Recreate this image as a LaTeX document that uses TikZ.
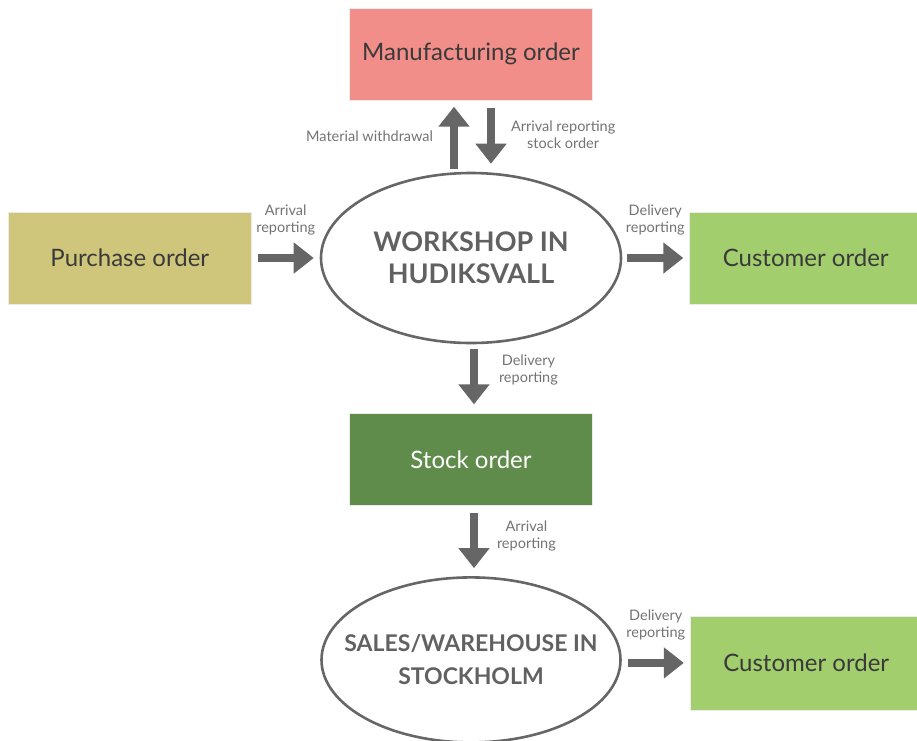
\documentclass[tikz,border=0pt]{standalone}
\usepackage{fontspec}
\setmainfont{Lato}
\usetikzlibrary{positioning,shapes.geometric,arrows.meta}
\definecolor{manufred}{HTML}{F28E89}
\definecolor{purchyellow}{HTML}{CFC67B}
\definecolor{custgreen}{HTML}{A2CE6E}
\definecolor{stockgreen}{HTML}{5F8B4B}
\definecolor{arrowgray}{HTML}{666666}
\definecolor{textgray}{HTML}{3A3A3A}
\begin{document}
\begin{tikzpicture}[x=1pt, y=-1pt,
    box/.style = {draw=black!8, line width=0.8pt, minimum width=243pt, minimum height=92pt, inner sep=0pt, text=textgray, font=\fontsize{24}{28}\selectfont},
    place/.style = {draw=arrowgray, ellipse, line width=2.6pt, inner xsep=-60pt, inner ysep=-30pt, align=center, text=black!62, font=\bfseries\fontsize{26}{32}\selectfont},
    flow/.style = {draw=arrowgray, line width=8pt, -{Triangle[width=30pt, length=20pt]}},
    lbl/.style = {inner sep=0pt, align=center, text=black!55, font=\fontsize{14.5}{17}\selectfont}]
    \useasboundingbox (0,0) rectangle (917,740);
    \node[place, minimum width=300pt, minimum height=170pt, font=\bfseries\fontsize{27}{32}\selectfont] (workshop) at (471,258) {WORKSHOP IN\\HUDIKSVALL};
    \node[box, fill=manufred] (manuf) [above=71pt of workshop] {Manufacturing order};
    \node[box, fill=purchyellow] (purchase) [left=68pt of workshop] {Purchase order};
    \node[box, fill=custgreen, minimum width=232pt] (cust1) [right=67pt of workshop] {Customer order};
    \node[box, fill=stockgreen, text=white] (stock) [below=69pt of workshop] {Stock order};
    \node[place, minimum width=299pt, minimum height=165pt, font=\bfseries\fontsize{23}{33}\selectfont] (sales) [below=70pt of stock] {SALES/WAREHOUSE IN\\STOCKHOLM};
    \node[box, fill=custgreen, minimum width=232pt, minimum height=94pt] (cust2) [right=68pt of sales, yshift=-3pt] {Customer order};
    \draw[flow] ([xshift=-17pt, yshift=3pt]workshop.north) -- node[lbl, left=17pt, pos=0.52] (withdraw) {Material withdrawal} ([xshift=-17pt, yshift=-6pt]manuf.south);
    \draw[flow] ([xshift=20pt, yshift=-7pt]manuf.south) -- node[lbl, right=16pt, pos=0.49] (arrstock) {Arrival reporting\\stock order} ([xshift=20pt, yshift=8pt]workshop.north);
    \draw[flow] ([xshift=6pt]purchase.east) -- node[lbl, above=19pt] (arrpurch) {Arrival\\reporting} ([xshift=-6pt]workshop.west);
    \draw[flow] ([xshift=5pt]workshop.east) -- node[lbl, above=19pt] (delcust1) {Delivery\\reporting} ([xshift=-6pt]cust1.west);
    \draw[flow] ([xshift=3pt, yshift=-5pt]workshop.south) -- node[lbl, right=21pt, pos=0.38] (delstock) {Delivery\\reporting} ([xshift=3pt, yshift=9pt]stock.north);
    \draw[flow] ([xshift=3pt, yshift=-7pt]stock.south) -- node[lbl, right=19pt, pos=0.42] (arrsales) {Arrival\\reporting} ([xshift=3pt, yshift=8pt]sales.north);
    \draw[flow] ([xshift=6pt, yshift=-3pt]sales.east) -- node[lbl, above=19pt] (delcust2) {Delivery\\reporting} ([xshift=-6pt]cust2.west);
\end{tikzpicture}
\end{document}
